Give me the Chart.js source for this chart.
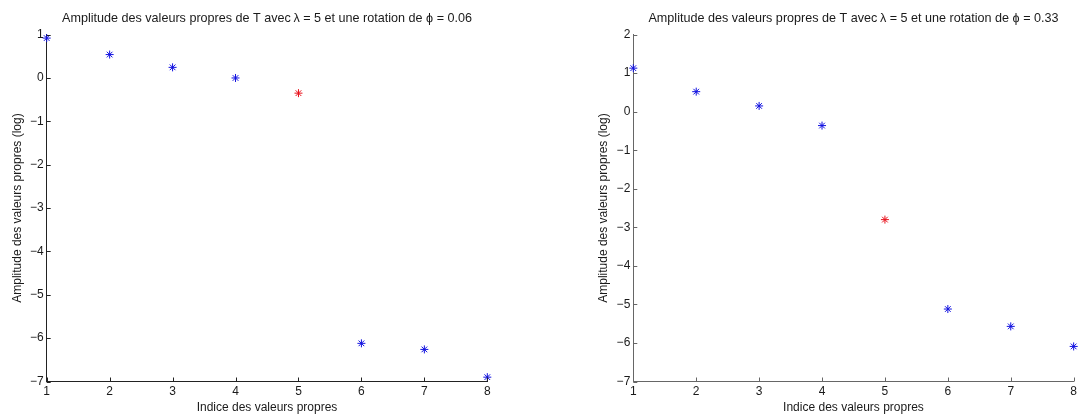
<!DOCTYPE html>
<html>
<head>
<meta charset="utf-8">
<script src="https://cdn.jsdelivr.net/npm/chart.js@4/dist/chart.umd.min.js"></script>
<style>
  html, body { margin: 0; padding: 0; background: #fff; }
  .panel { position: absolute; top: 0; width: 540px; height: 416px; }
  #left { left: 0; }
  #right { left: 540px; }
</style>
</head>
<body>
<div class="panel" id="left"><canvas id="chartLeft"></canvas></div>
<div class="panel" id="right"><canvas id="chartRight"></canvas></div>
<script>
// indices des valeurs propres
const indices = [1, 2, 3, 4, 5, 6, 7, 8];
// amplitude (log), phi = 0.06
const ampPhi006 = [0.92, 0.54, 0.245, 0.0, -0.35, -6.12, -6.26, -6.9];
// amplitude (log), phi = 0.33
const ampPhi033 = [1.13, 0.52, 0.15, -0.36, -2.8, -5.12, -5.57, -6.09];
// valeur propre mise en rouge (indice 5)
const highlightIndex = 5;

const titleLeft = 'Amplitude des valeurs propres de T avec\u2009\u03bb = 5 et une rotation de \u03d5 = 0.06';
const titleRight = 'Amplitude des valeurs propres de T avec\u2009\u03bb = 5 et une rotation de \u03d5 = 0.33';
const xLabel = 'Indice des valeurs propres';
const yLabel = 'Amplitude des valeurs propres (log)';

const FONT = '"Liberation Sans", Arial, Helvetica, sans-serif';
const TEXT = '#1a1a1a';

// petits traits de graduation vers l'interieur (style matlab)
const inwardTicks = {
    id: 'inwardTicks',
    afterDatasetsDraw(chart, args, opts) {
        const { ctx, chartArea: a, scales: { x, y } } = chart;
        ctx.save();
        ctx.strokeStyle = opts.color;
        ctx.lineWidth = 1;
        ctx.beginPath();
        x.ticks.forEach(t => {
            const px = Math.round(x.getPixelForValue(t.value)) + 0.5;
            ctx.moveTo(px, a.bottom);
            ctx.lineTo(px, a.bottom - 4);
        });
        y.ticks.forEach(t => {
            const py = Math.round(y.getPixelForValue(t.value)) + 0.5;
            ctx.moveTo(a.left, py);
            ctx.lineTo(a.left + 4, py);
        });
        ctx.stroke();
        ctx.restore();
    }
};

function makeChart(id, values, title, yMin, yMax, pad, axisColor) {
    const points = indices.map((x, i) => ({ x, y: values[i] }));
    const minus = v => String(v).replace('-', '\u2212');
    return new Chart(document.getElementById(id), {
        type: 'scatter',
        data: {
            datasets: [{
                data: points,
                pointStyle: 'star',
                pointRadius: 4,
                pointHoverRadius: 4,
                pointBorderWidth: 1,
                pointBorderColor: c => indices[c.dataIndex] === highlightIndex ? '#e8101a' : '#1010e0',
                pointBackgroundColor: 'transparent',
                clip: false
            }]
        },
        options: {
            responsive: true,
            maintainAspectRatio: false,
            animation: false,
            layout: { padding: { left: pad.left, right: pad.right, top: 0, bottom: 0 } },
            plugins: {
                legend: { display: false },
                tooltip: { enabled: false },
                title: {
                    display: true,
                    text: title,
                    fullSize: false,
                    color: TEXT,
                    font: { family: FONT, size: 12.6, weight: 'normal', lineHeight: 1.2 },
                    padding: { top: 11.4, bottom: 8.1 }
                },
                inwardTicks: { color: axisColor }
            },
            scales: {
                x: {
                    type: 'linear',
                    min: 1,
                    max: 8,
                    grid: { display: false, drawTicks: false },
                    border: { display: true, color: axisColor, width: 1 },
                    ticks: { stepSize: 1, padding: 3, color: TEXT, font: { family: FONT, size: 12 }, callback: minus },
                    title: { display: true, text: xLabel, color: TEXT, font: { family: FONT, size: 12 }, padding: { top: 0, bottom: 1 } },
                    afterFit: s => { s.height = 34.5; }
                },
                y: {
                    type: 'linear',
                    min: yMin,
                    max: yMax,
                    grid: { display: false, drawTicks: false },
                    border: { display: true, color: axisColor, width: 1 },
                    ticks: { stepSize: 1, padding: 3, color: TEXT, font: { family: FONT, size: 12 }, callback: minus },
                    title: { display: true, text: yLabel, color: TEXT, font: { family: FONT, size: 12 }, padding: { top: 10, bottom: 0 } },
                    afterFit: s => { s.width = 46.7; }
                }
            }
        },
        plugins: [inwardTicks]
    });
}

makeChart('chartLeft', ampPhi006, titleLeft, -7, 1, { left: 0, right: 52.7 }, '#222');
makeChart('chartRight', ampPhi033, titleRight, -7, 2, { left: 46.6, right: 6 }, '#666');
</script>
</body>
</html>
